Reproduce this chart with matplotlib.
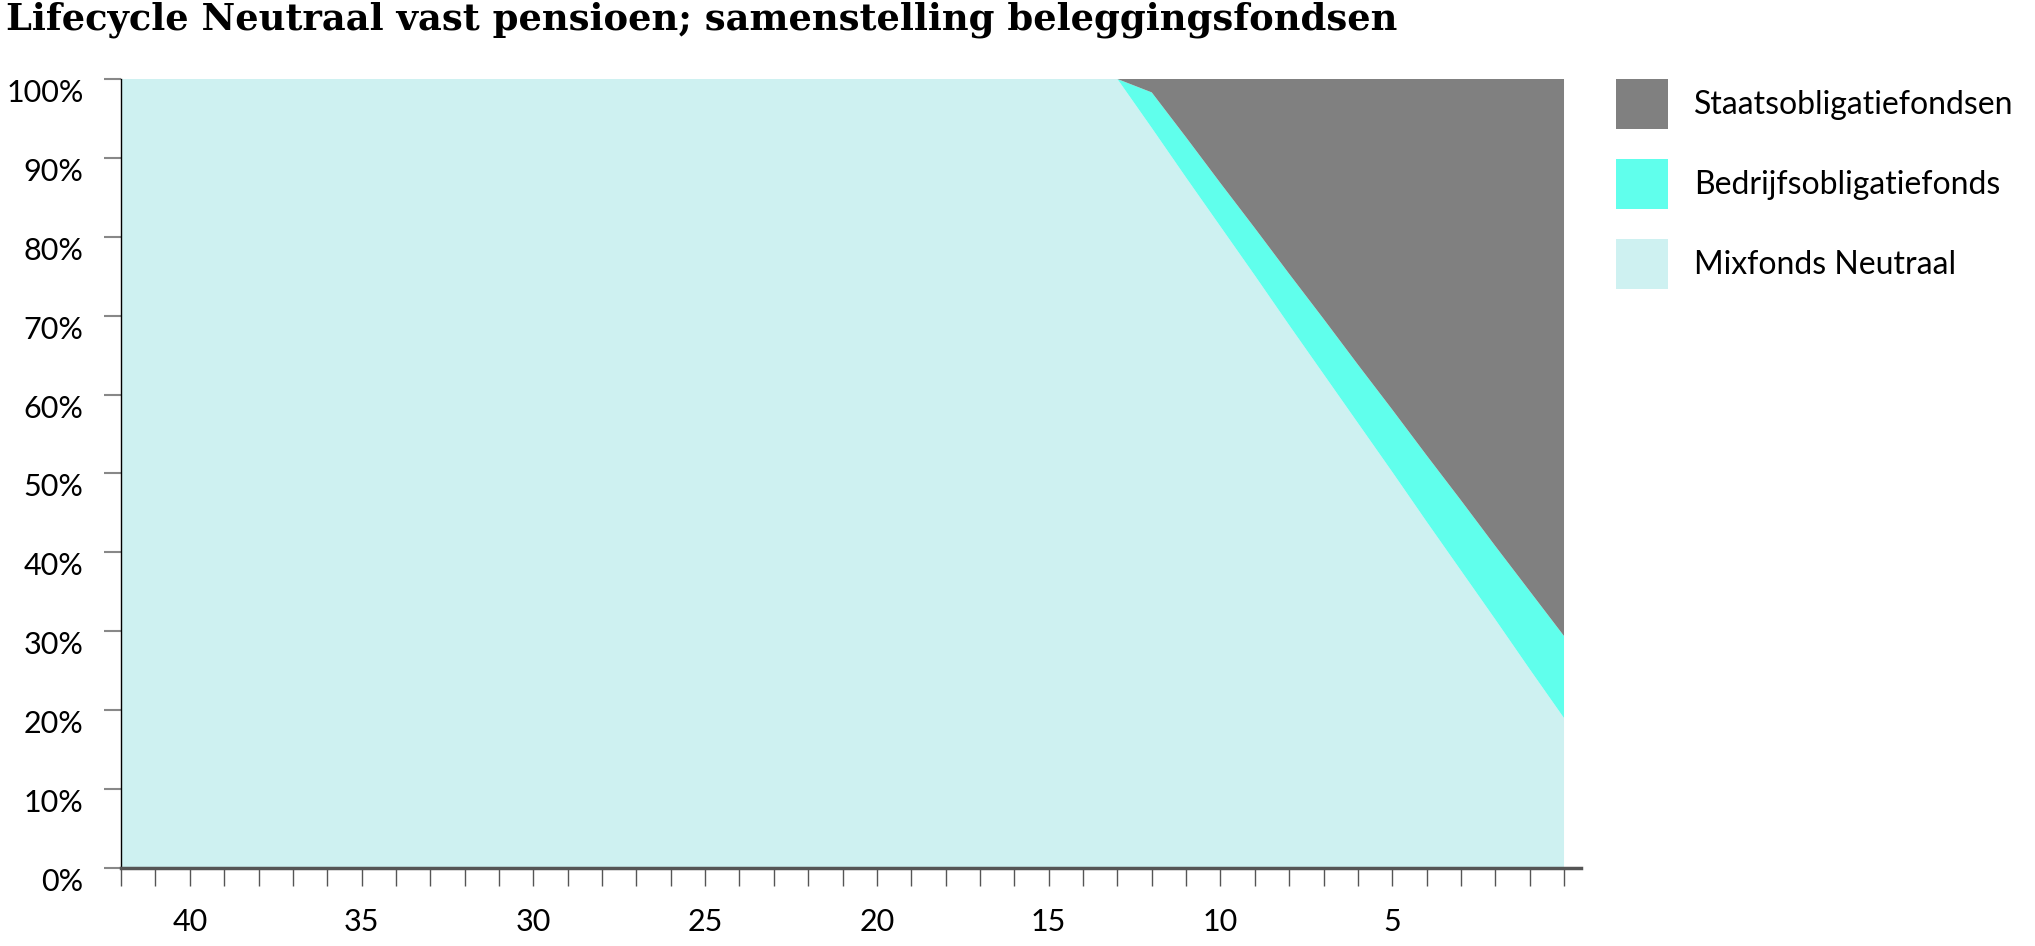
import matplotlib.pyplot as plt
import numpy as np
from matplotlib.patches import Patch

# years until retirement (x axis runs from 42 down to 0)
years = np.arange(42, -1, -1)

# share per fund in %, one value per year 42..0
mixfonds = [100, 100, 100, 100, 100, 100, 100, 100, 100, 100,
            100, 100, 100, 100, 100, 100, 100, 100, 100, 100,
            100, 100, 100, 100, 100, 100, 100, 100, 100, 100,
            93.8, 87.5, 81.3, 75.1, 68.8, 62.6, 56.4, 50.2, 43.9, 37.7,
            31.5, 25.2, 19.0]
bedrijf = [0, 0, 0, 0, 0, 0, 0, 0, 0, 0,
           0, 0, 0, 0, 0, 0, 0, 0, 0, 0,
           0, 0, 0, 0, 0, 0, 0, 0, 0, 0,
           4.5, 5.1, 5.5, 6.0, 6.5, 7.0, 7.4, 7.9, 8.4, 8.9,
           9.3, 9.9, 10.4]
staats = [0, 0, 0, 0, 0, 0, 0, 0, 0, 0,
          0, 0, 0, 0, 0, 0, 0, 0, 0, 0,
          0, 0, 0, 0, 0, 0, 0, 0, 0, 0,
          1.7, 7.4, 13.2, 18.9, 24.7, 30.4, 36.2, 41.9, 47.7, 53.4,
          59.2, 64.9, 70.6]

labels = ["Mixfonds Neutraal", "Bedrijfsobligatiefonds", "Staatsobligatiefondsen"]
colors = ["#cef1f1", "#60ffec", "#808080"]

label_font = "Lato"

fig = plt.figure(figsize=(20.35, 9.46), dpi=100)
ax = fig.add_axes([0.0595, 0.0825, 0.7175, 0.834])

ax.stackplot(years, mixfonds, bedrijf, staats, colors=colors, linewidth=0)

ax.set_xlim(42, -0.5)
ax.set_ylim(0, 100)

# y axis
ax.set_yticks(np.arange(0, 101, 10))
ax.set_yticklabels([f"{v}%" for v in range(0, 101, 10)])
ax.tick_params(axis="y", length=12, width=1.5, color="#888888", pad=15,
               labelsize=22, labelcolor="black")
for lab in ax.get_yticklabels():
    lab.set_verticalalignment("top")

# x axis: labels every 5 years, ticks every year
ax.set_xticks([40, 35, 30, 25, 20, 15, 10, 5])
ax.set_xticks(np.arange(0, 43, 1), minor=True)
ax.tick_params(axis="x", which="both", length=13, width=1, color="#555555",
               direction="out", pad=16, labelsize=22, labelcolor="black")

for lab in ax.get_xticklabels() + ax.get_yticklabels():
    lab.set_family(label_font)

ax.spines["top"].set_visible(False)
ax.spines["right"].set_visible(False)
ax.spines["left"].set_color("black")
ax.spines["left"].set_linewidth(1)
ax.spines["bottom"].set_color("#555555")
ax.spines["bottom"].set_linewidth(2.5)

fig.text(0.003, 1 - 29 / 946,
         "Lifecycle Neutraal vast pensioen; samenstelling beleggingsfondsen",
         family="DejaVu Serif", fontweight="bold", fontsize=26.6,
         va="baseline", ha="left")

handles = [Patch(facecolor=c, edgecolor="none") for c in colors[::-1]]
fig.legend(handles, labels[::-1], loc="upper left",
           bbox_to_anchor=(1616 / 2035, 1 - 79 / 946), frameon=False,
           borderpad=0, borderaxespad=0, handlelength=1.63, handleheight=2.05,
           labelspacing=0.92, handletextpad=0.82,
           prop={"family": label_font, "size": 23})

fig.savefig("out.png", dpi=100)
